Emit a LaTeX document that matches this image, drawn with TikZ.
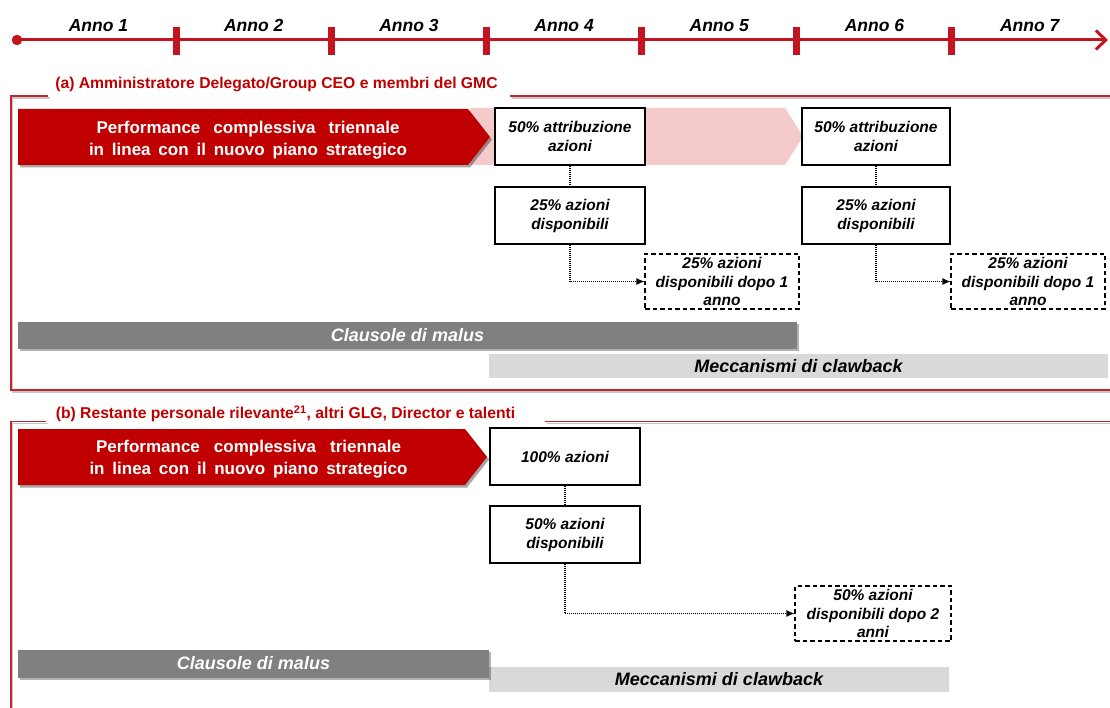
\documentclass[tikz,border=0pt]{standalone}
\usepackage{fontspec}
\setmainfont{Liberation Sans}
\usetikzlibrary{arrows.meta,shadows}
\definecolor{tlred}{HTML}{C4141F}
\definecolor{bred}{HTML}{C00000}
\definecolor{frred}{HTML}{C0262D}
\definecolor{pinkb}{HTML}{F5CACB}
\definecolor{dgrey}{HTML}{808080}
\definecolor{lgrey}{HTML}{D9D9D9}
\begin{document}
\begin{tikzpicture}[x=1pt,y=-1pt,
  tline/.style={draw=tlred,line width=3pt,-{Straight Barb[length=10pt,width=19pt,line width=3pt]}},
  tdot/.style={circle,fill=tlred,inner sep=0pt,minimum size=10.5pt},
  tick/.style={rectangle,fill=tlred,inner sep=0pt,minimum width=7pt,minimum height=28pt},
  anno/.style={anchor=base,inner sep=0pt,font=\fontsize{17.5}{20}\selectfont\bfseries\itshape},
  frameline/.style={draw=frred,line width=1.6pt},
  frameshadow/.style={draw=black!22,line width=1.6pt},
  ttl/.style={anchor=base,inner sep=0pt,text=bred,font=\fontsize{15.7}{18}\selectfont\bfseries},
  bannerfill/.style={fill=bred,drop shadow={shadow xshift=2pt,shadow yshift=-2.5pt,opacity=0.35,fill=black}},
  bannertext/.style={align=center,inner sep=0pt,text=white,font=\fontsize{17}{22}\selectfont\bfseries},
  box/.style={draw=black,line width=1.2pt,fill=white,align=center,inner sep=0pt,minimum width=150pt,minimum height=57pt,font=\fontsize{15.5}{19}\selectfont\bfseries\itshape},
  dbox/.style={draw=black,line width=1.1pt,dash pattern=on 4.5pt off 3pt,fill=white,align=center,inner sep=0pt,minimum height=55pt,font=\fontsize{15.5}{18.5}\selectfont\bfseries\itshape},
  dotl/.style={draw=black,line width=1.1pt,dash pattern=on 1pt off 1pt},
  dotarrow/.style={dotl,-{Latex[length=8pt,width=7pt]}},
  malus/.style={fill=dgrey,inner sep=0pt,text=white,font=\fontsize{18}{20}\selectfont\bfseries\itshape,drop shadow={shadow xshift=1.5pt,shadow yshift=-2pt,opacity=0.3,fill=black}},
  claw/.style={fill=lgrey,inner sep=0pt,text=black,font=\fontsize{18}{20}\selectfont\bfseries\itshape}
]
\useasboundingbox (0,0) rectangle (1110,708);

% ---------------- timeline ----------------
\coordinate (tend) at (1108,40);
\node[tdot] (t0) at (17,40) {};
\draw[tline] (t0.center) -- (tend);
\foreach \i/\x in {1/176,2/331,3/486.5,4/641,5/796,6/951}
  \node[tick] (tk\i) at (\x,41) {};
\foreach \i in {1,...,7}
  \node[anno] (an\i) at ({98.5+155.2*(\i-1)},32) {Anno \i};

% ---------------- frame (a) ----------------
\draw[frameshadow,shift={(1.5,2)}] (48,96) -- (11,96) -- (11,390) -- (1115,390);
\draw[frameshadow,shift={(1.5,2)}] (510,96) -- (1115,96);
\draw[frameline] (48,96) -- (11,96) -- (11,390) -- (1115,390);
\draw[frameline] (510,96) -- (1115,96);
\node[ttl] (ta) at (276.5,88.5) {(a) Amministratore Delegato/Group CEO e membri del GMC};

% pink band and red banner (a)
\fill[pinkb] (470,108) -- (785,108) -- (803,136.5) -- (785,165) -- (470,165) -- cycle;
\fill[bannerfill] (18,109) -- (468,109) -- (490,137) -- (468,165) -- (18,165) -- cycle;
\node[bannertext] (pa) at (248,140) {\makebox[303pt][s]{Performance complessiva triennale}\\\makebox[318pt][s]{in linea con il nuovo piano strategico}};

% boxes (a)
\node[box] (a1) at (570,136.5) {50\% attribuzione\\azioni};
\node[box] (a2) at (570,215.5) {25\% azioni\\disponibili};
\node[dbox,minimum width=154pt] (a3) at (722,281.5) {25\% azioni\\disponibili dopo 1\\anno};
\node[box,minimum width=148pt] (b1) at (876,136.5) {50\% attribuzione\\azioni};
\node[box,minimum width=148pt] (b2) at (876,215.5) {25\% azioni\\disponibili};
\node[dbox,minimum width=154pt] (b3) at (1028,281.5) {25\% azioni\\disponibili dopo 1\\anno};

\draw[dotl] (a1.south) -- (a2.north);
\draw[dotarrow] (a2.south) |- (a3.west);
\draw[dotl] (b1.south) -- (b2.north);
\draw[dotarrow] (b2.south) |- (b3.west);

% bars (a)
\node[claw,minimum width=619pt,minimum height=24pt] (ca) at (798.5,366) {Meccanismi di clawback};
\node[malus,minimum width=779pt,minimum height=27pt] (ma) at (407.5,335) {Clausole di malus};

% ---------------- frame (b) ----------------
\draw[frameshadow,shift={(1.5,2)}] (46,421.5) -- (11,421.5) -- (11,715);
\draw[frameshadow,shift={(1.5,2)}] (545,421.5) -- (1115,421.5);
\draw[frameline] (46,421.5) -- (11,421.5) -- (11,715);
\draw[frameline] (545,421.5) -- (1115,421.5);
\node[ttl] (tb) at (285.5,418.5) {(b) Restante personale rilevante\textsuperscript{21}, altri GLG, Director e talenti};

% red banner (b)
\fill[bannerfill] (18,429) -- (465,429) -- (487,457) -- (465,485) -- (18,485) -- cycle;
\node[bannertext] (pb) at (248.5,459.5) {\makebox[305pt][s]{Performance complessiva triennale}\\\makebox[318pt][s]{in linea con il nuovo piano strategico}};

% boxes (b)
\node[box] (c1) at (565,456.5) {100\% azioni};
\node[box] (c2) at (565,534.5) {50\% azioni\\disponibili};
\node[dbox,minimum width=156pt] (c3) at (873,613.5) {50\% azioni\\disponibili dopo 2\\anni};

\draw[dotl] (c1.south) -- (c2.north);
\draw[dotarrow] (c2.south) |- (c3.west);

% bars (b)
\node[claw,minimum width=460pt,minimum height=25pt] (cb) at (719,679.5) {Meccanismi di clawback};
\node[malus,minimum width=471pt,minimum height=28pt] (mb) at (253.5,663.5) {Clausole di malus};
\end{tikzpicture}
\end{document}
